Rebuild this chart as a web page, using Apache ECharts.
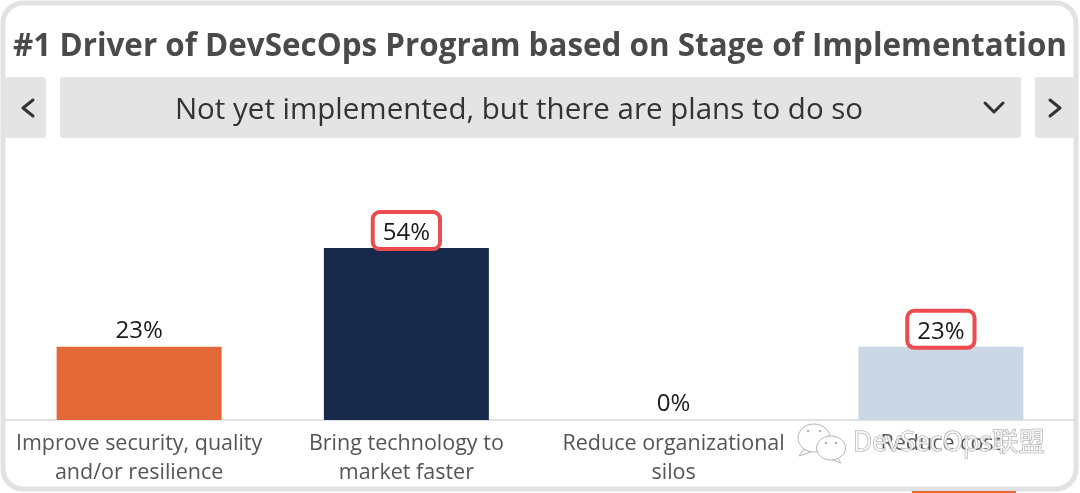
<!DOCTYPE html>
<html>
<head>
<meta charset="utf-8">
<style>
html, body { margin: 0; padding: 0; background: #fff; }
#container_1 { width: 1080px; height: 493px; }
</style>
<script src="https://cdn.jsdelivr.net/npm/echarts@6/dist/echarts.min.js"></script>
</head>
<body>
<div id="container_1"></div>
<script>
var titleText = '#1 Driver of DevSecOps Program based on Stage of Implementation';
var stageText = 'Not yet implemented, but there are plans to do so';
var categories = ['Improve security, quality\nand/or resilience', 'Bring technology to\nmarket faster', 'Reduce organizational\nsilos', 'Reduce cost'];
var values = [23, 54, 0, 23];
var barColors = ['#e26838', '#17294b', '#e26838', '#cad8e5'];
var boxedBars = [false, true, false, true];

var font = '"Open Sans", sans-serif';
var dom = document.getElementById('container_1');
var myChart = echarts.init(dom);

function chevron(points) {
	return {
		type: 'polyline',
		z: 10,
		shape: { points: points },
		style: { stroke: '#333333', lineWidth: 3, fill: null, lineCap: 'round', lineJoin: 'round' }
	};
}

function button(x, width) {
	return {
		type: 'rect',
		z: 1,
		shape: { x: x, y: 77, width: width, height: 61, r: 3 },
		style: { fill: '#e4e4e4' }
	};
}

function bubble(cx, cy, rx, ry) {
	return {
		type: 'ellipse',
		z: 20,
		shape: { cx: cx, cy: cy, rx: rx, ry: ry },
		style: { fill: '#ffffff', stroke: '#b5b5b5', lineWidth: 1 }
	};
}

function eye(cx, cy) {
	return {
		type: 'circle',
		z: 21,
		shape: { cx: cx, cy: cy, r: 1.3 },
		style: { fill: '#b5b5b5' }
	};
}

var chrome = [
	// outer card
	{
		type: 'rect',
		z: 0,
		shape: { x: 3, y: 3, width: 1073, height: 486, r: 20 },
		style: { fill: '#ffffff', stroke: '#e2e2e2', lineWidth: 5 }
	},
	{
		type: 'text',
		z: 10,
		style: { x: 540, y: 47, text: titleText, font: 'bold 31.4px ' + font, fill: '#4a4a4a', align: 'center', verticalAlign: 'middle' }
	},
	button(5, 41),
	button(60, 961),
	button(1035, 41),
	{
		type: 'text',
		z: 10,
		style: { x: 519, y: 111, text: stageText, font: '29.5px ' + font, fill: '#333333', align: 'center', verticalAlign: 'middle' }
	},
	chevron([[33, 100], [23, 108], [33, 116]]),
	chevron([[985, 103], [994, 112], [1003, 103]]),
	chevron([[1050, 100], [1060, 108], [1050, 116]]),
	// piece of the next card showing under the frame
	{
		type: 'rect',
		z: 10,
		shape: { x: 912, y: 491, width: 104, height: 2 },
		style: { fill: '#e26838' }
	},
	// watermark
	{
		type: 'polygon',
		z: 19,
		shape: { points: [[804, 449], [799, 456], [811, 452]] },
		style: { fill: '#ffffff', stroke: '#b5b5b5', lineWidth: 1 }
	},
	bubble(814, 438, 16, 14),
	eye(808, 431),
	eye(820, 431),
	{
		type: 'polygon',
		z: 20,
		shape: { points: [[836, 456], [841, 463], [830, 459]] },
		style: { fill: '#ffffff', stroke: '#b5b5b5', lineWidth: 1 }
	},
	bubble(831, 448, 14.5, 12),
	eye(826, 443),
	eye(836, 443),
	{
		type: 'text',
		z: 20,
		style: {
			x: 853, y: 443, text: 'DevSecOps联盟',
			font: '26.5px "Open Sans", "Noto Sans CJK SC", sans-serif',
			fill: 'rgba(255,255,255,0.75)', stroke: '#a0a0a0', lineWidth: 1,
			align: 'left', verticalAlign: 'middle'
		}
	}
];

var barData = values.map(function(v, i) {
	var item = { value: v, itemStyle: { color: barColors[i] } };
	if (boxedBars[i]) {
		item.label = {
			borderColor: '#ee4b4f',
			borderWidth: 4,
			borderRadius: 7,
			padding: [9, 10, 4, 10],
			distance: -1
		};
	}
	return item;
});

var option1 = {
	animation: false,
	backgroundColor: '#ffffff',
	textStyle: { fontFamily: font },
	graphic: chrome,
	grid: { left: 5.5, right: 5.5, top: 229, bottom: 73 },
	xAxis: {
		type: 'category',
		data: categories,
		axisTick: { show: false },
		axisLine: { lineStyle: { color: '#d9d9d9', width: 1.5 } },
		axisLabel: {
			interval: 0,
			margin: 9,
			color: '#555555',
			fontFamily: font,
			fontSize: 21.5,
			lineHeight: 29
		}
	},
	yAxis: {
		type: 'value',
		min: 0,
		max: 60,
		show: false,
		splitLine: { show: false }
	},
	series: [{
		type: 'bar',
		barWidth: 165,
		data: barData,
		label: {
			show: true,
			position: 'top',
			distance: 4,
			formatter: '{c}%',
			color: '#1a1a1a',
			fontFamily: font,
			fontSize: 24
		}
	}]
};
myChart.setOption(option1, true);
</script>
</body>
</html>
